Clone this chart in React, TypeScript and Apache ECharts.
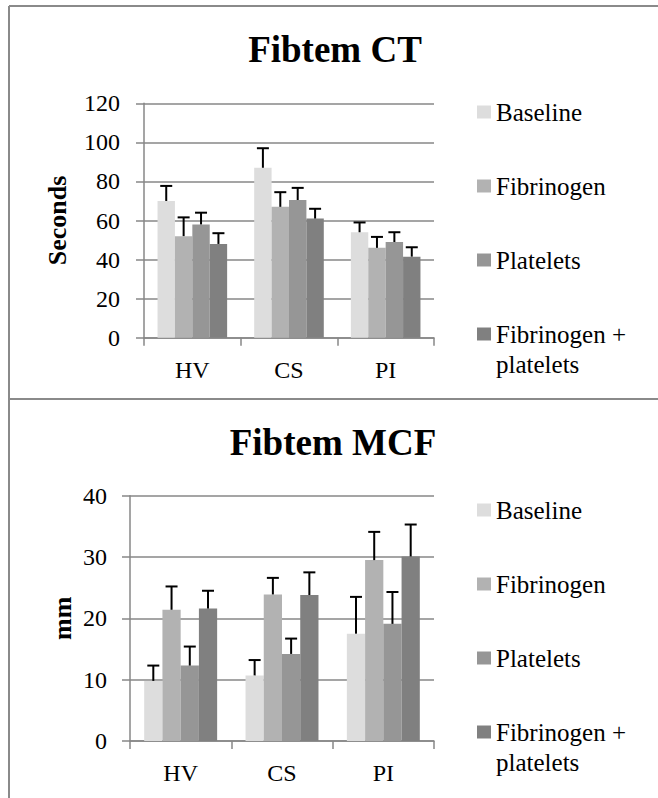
import React, { useEffect, useRef } from "react";
import * as echarts from "echarts";

// Categories and groups
const sites = ["HV", "CS", "PI"];
const groupNames = ["Baseline", "Fibrinogen", "Platelets", "Fibrinogen + platelets"];
const groupColors = ["#dddddd", "#b2b2b2", "#969696", "#808080"];

// Fibtem CT (seconds): means and upper error
const ctBaseline = [70, 87, 54];
const ctBaselineErr = [7.7, 10, 5];
const ctFibrinogen = [52, 67, 46];
const ctFibrinogenErr = [9.6, 7.5, 5.6];
const ctPlatelets = [58, 70.5, 49];
const ctPlateletsErr = [6, 6.2, 5];
const ctCombined = [48, 61, 41.5];
const ctCombinedErr = [5.5, 5, 4.8];

// Fibtem MCF (mm): means and upper error
const mcfBaseline = [9.8, 10.7, 17.5];
const mcfBaselineErr = [2.5, 2.5, 6];
const mcfFibrinogen = [21.4, 23.9, 29.5];
const mcfFibrinogenErr = [3.8, 2.7, 4.6];
const mcfPlatelets = [12.3, 14.2, 19.1];
const mcfPlateletsErr = [3.1, 2.5, 5.2];
const mcfCombined = [21.6, 23.8, 30.1];
const mcfCombinedErr = [2.9, 3.7, 5.2];

const FONT = "'Liberation Serif', 'Times New Roman', serif";
const GRID_GRAY = "#878787";
const CATEGORY_GAP = 0.28;

const ctMeans = [ctBaseline, ctFibrinogen, ctPlatelets, ctCombined];
const ctErrs = [ctBaselineErr, ctFibrinogenErr, ctPlateletsErr, ctCombinedErr];
const mcfMeans = [mcfBaseline, mcfFibrinogen, mcfPlatelets, mcfCombined];
const mcfErrs = [mcfBaselineErr, mcfFibrinogenErr, mcfPlateletsErr, mcfCombinedErr];

// Legend geometry
const LEGEND_LEFT = 477;
const LEGEND_ICON_W = 14;
const LEGEND_ICON_H = 13;
const LEGEND_LINE = 30;
const LEGEND_GAP = 44;

function barSeries(axisIdx: number, means: number[][]) {
  return means.map((vals, g) => ({
    type: "bar",
    name: groupNames[g],
    xAxisIndex: axisIdx,
    yAxisIndex: axisIdx,
    data: vals,
    barGap: "0%",
    barCategoryGap: CATEGORY_GAP * 100 + "%",
    itemStyle: { color: groupColors[g] },
    z: 2,
  }));
}

function errorSeries(axisIdx: number, means: number[][], errs: number[][]) {
  return means.map((vals, g) => ({
    type: "custom",
    xAxisIndex: axisIdx,
    yAxisIndex: axisIdx,
    silent: true,
    z: 5,
    data: vals.map((v, i) => [i, v, v + errs[g][i]]),
    encode: { x: 0, y: [1, 2] },
    renderItem: (_params: any, api: any) => {
      const band = api.size([1, 0])[0];
      const barW = (band * (1 - CATEGORY_GAP)) / groupNames.length;
      const base = api.coord([api.value(0), api.value(1)]);
      const top = api.coord([api.value(0), api.value(2)]);
      const x = base[0] + (g - (groupNames.length - 1) / 2) * barW;
      const style = { stroke: "#000000", lineWidth: 2 };
      return {
        type: "group",
        children: [
          { type: "line", shape: { x1: x, y1: base[1], x2: x, y2: top[1] }, style },
          { type: "line", shape: { x1: x - 6, y1: top[1], x2: x + 6, y2: top[1] }, style },
        ],
      };
    },
  }));
}

const legendText = { fontFamily: FONT, fontSize: 25, color: "#000", lineHeight: LEGEND_LINE };

function legendFor(top: number) {
  return {
    orient: "vertical",
    left: LEGEND_LEFT,
    top,
    height: 380,
    padding: 0,
    itemWidth: LEGEND_ICON_W,
    itemHeight: LEGEND_ICON_H,
    itemGap: LEGEND_GAP,
    icon: "rect",
    selectedMode: false,
    formatter: (name: string) => (name === "Fibrinogen + platelets" ? "Fibrinogen +" : name),
    textStyle: legendText,
    data: groupNames,
  };
}

// second line of the wrapped last legend entry
function legendWrap(top: number) {
  const firstCenter = top + LEGEND_LINE / 2;
  const lastCenter = firstCenter + 3 * (LEGEND_LINE + LEGEND_GAP);
  return {
    type: "text",
    x: LEGEND_LEFT + LEGEND_ICON_W + 5,
    y: lastCenter + LEGEND_LINE,
    style: { text: "platelets", ...legendText, fill: "#000", verticalAlign: "middle", align: "left" },
  };
}

function xAxisFor(gridIndex: number) {
  return {
    type: "category",
    gridIndex,
    data: sites,
    axisLine: { lineStyle: { color: GRID_GRAY, width: 1.5 } },
    axisTick: { show: true, length: 8, lineStyle: { color: GRID_GRAY, width: 1.5 } },
    axisLabel: { color: "#000", fontFamily: FONT, fontSize: 24, margin: 20 },
    splitLine: { show: false },
  };
}

function yAxisFor(gridIndex: number, max: number, interval: number, name: string, nameGap: number, margin: number) {
  return {
    type: "value",
    gridIndex,
    min: 0,
    max,
    interval,
    name,
    nameLocation: "middle",
    nameRotate: 90,
    nameGap,
    nameTextStyle: { color: "#000", fontFamily: FONT, fontSize: 26, fontWeight: "bold" },
    axisLine: { show: true, lineStyle: { color: GRID_GRAY, width: 1.5 } },
    axisTick: { show: true, length: 8, lineStyle: { color: GRID_GRAY, width: 1.5 } },
    axisLabel: { color: "#000", fontFamily: FONT, fontSize: 24, margin },
    splitLine: { show: true, lineStyle: { color: GRID_GRAY, width: 1.5 } },
  };
}

export default function App() {
  const ref = useRef<HTMLDivElement>(null);

  useEffect(() => {
    if (!ref.current) return;
    const chart = echarts.init(ref.current, null, { renderer: "svg" });
    const titleStyle = { fontFamily: FONT, fontSize: 37, fontWeight: "bold", color: "#000", lineHeight: 37 };
    const legendTops = [97, 495];
    chart.setOption({
      animation: false,
      backgroundColor: "#ffffff",
      textStyle: { fontFamily: FONT },
      title: [
        { text: "Fibtem CT", left: 335, top: 31, textAlign: "center", padding: 0, textStyle: titleStyle },
        { text: "Fibtem MCF", left: 333, top: 424, textAlign: "center", padding: 0, textStyle: titleStyle },
      ],
      legend: legendTops.map(legendFor),
      grid: [
        { left: 144, right: 224, top: 103.3, height: 234.4 },
        { left: 130, right: 224, top: 495.7, height: 245.3 },
      ],
      xAxis: [xAxisFor(0), xAxisFor(1)],
      yAxis: [
        yAxisFor(0, 120, 20, "Seconds", 74, 24),
        yAxisFor(1, 40, 10, "mm", 55, 23),
      ],
      series: [
        ...barSeries(0, ctMeans),
        ...errorSeries(0, ctMeans, ctErrs),
        ...barSeries(1, mcfMeans),
        ...errorSeries(1, mcfMeans, mcfErrs),
      ],
      graphic: [
        { type: "line", shape: { x1: 9, y1: 6, x2: 658, y2: 6 }, style: { stroke: "#8a8a8a", lineWidth: 2 } },
        { type: "line", shape: { x1: 9, y1: 6, x2: 9, y2: 798 }, style: { stroke: "#8a8a8a", lineWidth: 2 } },
        { type: "line", shape: { x1: 9, y1: 399, x2: 658, y2: 399 }, style: { stroke: "#8a8a8a", lineWidth: 2 } },
        ...legendTops.map(legendWrap),
      ],
    });
    return () => chart.dispose();
  }, []);

  return (
    <div
      ref={ref}
      style={{ position: "absolute", left: 0, top: 0, width: 658, height: 798, background: "#fff" }}
    />
  );
}
